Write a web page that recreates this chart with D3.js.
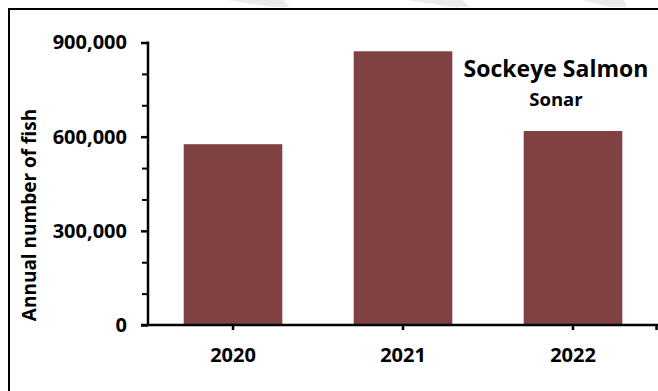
<!DOCTYPE html>
<html>
<head>
<meta charset="utf-8">
<script src="https://cdn.jsdelivr.net/npm/d3@7"></script>
<style>
  html, body { margin: 0; padding: 0; background: #ffffff; }
  svg { display: block; }
  text { font-family: "Open Sans", "Noto Sans", sans-serif; font-weight: 700; fill: #000; }
</style>
</head>
<body>
<svg id="chart" width="658" height="391"></svg>
<script>
// ---- data ----
const categories = ["2020", "2021", "2022"];
const values = [576000, 872000, 618000];
const yTickValues = [0, 300000, 600000, 900000];
const yMinorTickValues = [100000, 200000, 400000, 500000, 700000, 800000];
const titleText = "Sockeye Salmon";
const subtitleText = "Sonar";
const yAxisLabel = "Annual number of fish";

const svg = d3.select("#chart");
const W = 658, H = 391;

// faint watermark stripes in the top margin
const stripes = [
  [[227,0],[283,0],[290,7],[273,7]],
  [[407,0],[462,0],[470,7],[453,7]],
  [[582,0],[624,0],[627,7],[610,7]]
];
svg.selectAll("polygon.stripe").data(stripes).enter().append("polygon")
  .attr("class", "stripe")
  .attr("points", d => d.map(p => p.join(",")).join(" "))
  .attr("fill", "#ebebeb");

// chart frame
svg.append("path")
  .attr("d", `M9,${H} V9 H${W}`)
  .attr("fill", "none")
  .attr("stroke", "#000")
  .attr("stroke-width", 2);

const plotLeft = 148, plotRight = 658, plotTop = 42.5, plotBottom = 325;

const x = d3.scaleBand()
  .domain(categories)
  .range([plotLeft, plotRight])
  .paddingInner(0.42)
  .paddingOuter(0.21);

const y = d3.scaleLinear()
  .domain([0, 900000])
  .range([plotBottom, plotTop]);

// bars
svg.selectAll("rect.bar").data(values).enter().append("rect")
  .attr("class", "bar")
  .attr("x", (d, i) => x(categories[i]))
  .attr("width", x.bandwidth())
  .attr("y", d => y(d))
  .attr("height", d => y(0) - y(d))
  .attr("fill", "#7f4141");

// y axis (major)
const yAxis = d3.axisLeft(y)
  .tickValues(yTickValues)
  .tickSize(7)
  .tickPadding(14)
  .tickFormat(d3.format(","));
const gy = svg.append("g")
  .attr("transform", `translate(${plotLeft},0)`)
  .call(yAxis);
gy.select(".domain").remove();
gy.selectAll(".tick line").attr("stroke", "#000").attr("stroke-width", 2.5);
gy.selectAll(".tick text")
  .style("font-size", "20px")
  .style("font-family", "'Open Sans', sans-serif")
  .style("font-weight", "700")
  .attr("fill", "#000");

// y minor ticks
const yMinor = d3.axisLeft(y).tickValues(yMinorTickValues).tickSize(6).tickFormat("");
const gyMinor = svg.append("g")
  .attr("transform", `translate(${plotLeft},0)`)
  .call(yMinor);
gyMinor.select(".domain").remove();
gyMinor.selectAll(".tick line").attr("stroke", "#000").attr("stroke-width", 2);

// y axis line
svg.append("line")
  .attr("x1", plotLeft).attr("x2", plotLeft)
  .attr("y1", y(900000) - 1).attr("y2", y(0))
  .attr("stroke", "#000").attr("stroke-width", 2.5);

// x axis
const xAxis = d3.axisBottom(x).tickSize(5).tickPadding(18).tickSizeOuter(0);
const gx = svg.append("g")
  .attr("transform", `translate(0,${plotBottom})`)
  .call(xAxis);
gx.select(".domain").remove();
gx.selectAll(".tick line").attr("stroke", "#000").attr("stroke-width", 2.5);
gx.selectAll(".tick text")
  .style("font-size", "20px")
  .style("font-family", "'Open Sans', sans-serif")
  .style("font-weight", "700")
  .attr("fill", "#000");

// x axis line + right end tick
svg.append("line")
  .attr("x1", plotLeft - 7).attr("x2", plotRight)
  .attr("y1", plotBottom).attr("y2", plotBottom)
  .attr("stroke", "#000").attr("stroke-width", 2.5);
svg.append("line")
  .attr("x1", plotRight - 1.5).attr("x2", plotRight - 1.5)
  .attr("y1", plotBottom).attr("y2", plotBottom + 5)
  .attr("stroke", "#000").attr("stroke-width", 2.5);

// y axis title
svg.append("text")
  .attr("transform", "translate(36,215) rotate(-90)")
  .attr("text-anchor", "middle")
  .style("font-size", "19px")
  .text(yAxisLabel);

// title / subtitle
svg.append("text")
  .attr("x", 556).attr("y", 77)
  .attr("text-anchor", "middle")
  .style("font-size", "23px")
  .text(titleText);
svg.append("text")
  .attr("x", 556).attr("y", 106)
  .attr("text-anchor", "middle")
  .style("font-size", "18.5px")
  .text(subtitleText);
</script>
</body>
</html>
